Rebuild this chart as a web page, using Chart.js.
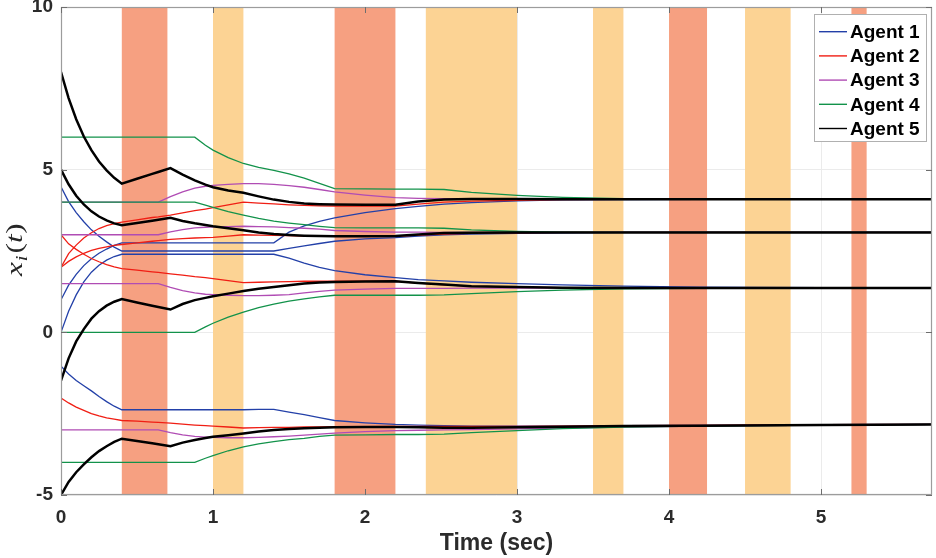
<!DOCTYPE html>
<html><head><meta charset="utf-8">
<script src="https://cdn.jsdelivr.net/npm/chart.js@4.4.1/dist/chart.umd.min.js"></script>
<style>html,body{margin:0;padding:0;background:#fff;}#wrap{width:936px;height:558px;}</style>
</head><body><div id="wrap"><canvas id="c" width="936" height="558"></canvas></div>
<script>
// ---- data ----
const times = [0,0.05,0.1,0.15,0.2,0.25,0.3,0.35,0.4,0.5,0.6,0.64,0.72,0.8,0.88,0.95,1.0,1.1,1.2,1.3,1.4,1.5,1.6,1.7,1.8,2.0,2.2,2.35,2.52,2.7,3.0,3.3,3.7,4.2,5.0,5.73];

const agent1 = [
  [4.47,4.02,3.68,3.4,3.15,2.95,2.78,2.62,2.5,2.5,2.5,2.5,2.5,2.5,2.5,2.5,2.5,2.5,2.5,2.5,2.5,2.58,2.66,2.73,2.8,2.87,2.91,2.96,3.0,3.02,3.04,3.06,3.07,3.07,3.07,3.07],
  [1.0,1.45,1.78,2.05,2.26,2.43,2.56,2.67,2.75,2.75,2.75,2.75,2.75,2.75,2.75,2.75,2.75,2.75,2.75,2.75,2.75,3.08,3.27,3.41,3.52,3.68,3.8,3.87,3.94,3.99,4.04,4.07,4.08,4.09,4.09,4.09],
  [0,0.65,1.15,1.55,1.85,2.06,2.22,2.33,2.4,2.4,2.4,2.4,2.4,2.4,2.4,2.4,2.4,2.4,2.4,2.4,2.4,2.28,2.13,2.0,1.9,1.77,1.68,1.62,1.58,1.54,1.5,1.46,1.42,1.39,1.37,1.36],
  [-1.04,-1.28,-1.48,-1.64,-1.8,-1.97,-2.13,-2.27,-2.38,-2.38,-2.38,-2.38,-2.38,-2.38,-2.38,-2.38,-2.38,-2.38,-2.38,-2.37,-2.37,-2.45,-2.53,-2.62,-2.71,-2.78,-2.83,-2.85,-2.87,-2.88,-2.88,-2.88,-2.87,-2.86,-2.84,-2.83]
];
const agent2 = [
  [2,2.42,2.68,2.9,3.06,3.19,3.28,3.34,3.39,3.46,3.53,3.55,3.6,3.67,3.74,3.79,3.83,3.92,4.0,3.97,3.95,3.92,3.9,3.89,3.88,3.88,3.88,3.94,4.0,4.03,4.06,4.08,4.09,4.09,4.09,4.09],
  [2,2.18,2.32,2.43,2.52,2.58,2.63,2.67,2.7,2.75,2.8,2.82,2.86,2.88,2.9,2.91,2.92,2.96,3.0,2.99,2.98,2.97,2.96,2.95,2.95,2.95,2.95,2.99,3.02,3.04,3.06,3.07,3.07,3.07,3.07,3.07],
  [3,2.72,2.55,2.4,2.27,2.17,2.08,2.01,1.96,1.91,1.86,1.84,1.8,1.76,1.71,1.68,1.65,1.59,1.53,1.54,1.55,1.56,1.57,1.57,1.57,1.57,1.57,1.51,1.46,1.42,1.39,1.37,1.36,1.36,1.36,1.36],
  [-2.02,-2.17,-2.3,-2.4,-2.5,-2.57,-2.63,-2.67,-2.71,-2.73,-2.76,-2.77,-2.79,-2.82,-2.85,-2.87,-2.88,-2.91,-2.94,-2.93,-2.92,-2.92,-2.91,-2.91,-2.9,-2.9,-2.89,-2.89,-2.89,-2.89,-2.89,-2.88,-2.87,-2.86,-2.84,-2.83]
];
const agent3 = [
  [4,4,4,4,4,4,4,4,4,4,4,4,4.17,4.32,4.43,4.49,4.52,4.55,4.57,4.57,4.55,4.51,4.46,4.39,4.32,4.22,4.14,4.12,4.11,4.1,4.1,4.09,4.09,4.09,4.09,4.09],
  [3,3,3,3,3,3,3,3,3,3,3,3,3.09,3.16,3.21,3.23,3.24,3.25,3.26,3.25,3.24,3.22,3.2,3.17,3.13,3.1,3.08,3.08,3.07,3.07,3.07,3.07,3.07,3.07,3.07,3.07],
  [1.5,1.5,1.5,1.5,1.5,1.5,1.5,1.5,1.5,1.5,1.5,1.5,1.38,1.28,1.21,1.17,1.16,1.14,1.13,1.13,1.14,1.16,1.21,1.26,1.3,1.33,1.35,1.35,1.35,1.36,1.36,1.36,1.36,1.36,1.36,1.36],
  [-3,-3,-3,-3,-3,-3,-3,-3,-3,-3,-3,-3,-3.08,-3.15,-3.2,-3.22,-3.23,-3.24,-3.24,-3.23,-3.21,-3.19,-3.16,-3.13,-3.1,-3.05,-3.02,-3.01,-3.0,-2.99,-2.97,-2.94,-2.91,-2.88,-2.85,-2.83]
];
const agent4 = [
  [6,6,6,6,6,6,6,6,6,6,6,6,6,6,6,5.75,5.6,5.37,5.19,5.07,4.98,4.87,4.74,4.58,4.42,4.41,4.4,4.4,4.39,4.3,4.21,4.15,4.11,4.1,4.09,4.09],
  [4,4,4,4,4,4,4,4,4,4,4,4,4,4,4,3.91,3.84,3.71,3.6,3.5,3.42,3.36,3.31,3.26,3.22,3.21,3.21,3.21,3.2,3.15,3.1,3.08,3.07,3.07,3.07,3.07],
  [0,0,0,0,0,0,0,0,0,0,0,0,0,0,0,0.17,0.28,0.47,0.62,0.76,0.87,0.96,1.03,1.09,1.14,1.14,1.14,1.14,1.15,1.19,1.25,1.3,1.34,1.35,1.36,1.36],
  [-4,-4,-4,-4,-4,-4,-4,-4,-4,-4,-4,-4,-4,-4,-4,-3.87,-3.79,-3.64,-3.52,-3.43,-3.36,-3.3,-3.26,-3.2,-3.16,-3.15,-3.14,-3.14,-3.13,-3.08,-3.02,-2.96,-2.91,-2.88,-2.85,-2.83]
];
const agent5 = [
  [8,7.2,6.55,6.02,5.6,5.25,4.98,4.75,4.57,4.72,4.87,4.93,5.05,4.85,4.67,4.54,4.46,4.36,4.29,4.18,4.08,4.01,3.96,3.94,3.93,3.92,3.92,4.02,4.08,4.1,4.1,4.09,4.09,4.09,4.09,4.09],
  [5,4.55,4.2,3.93,3.72,3.56,3.44,3.35,3.29,3.36,3.43,3.46,3.52,3.42,3.35,3.3,3.26,3.2,3.14,3.07,3.02,2.99,2.97,2.96,2.95,2.95,2.96,3.01,3.05,3.06,3.07,3.07,3.07,3.07,3.07,3.07],
  [-1.48,-0.8,-0.28,0.1,0.42,0.65,0.82,0.94,1.02,0.92,0.82,0.78,0.7,0.87,0.99,1.06,1.11,1.19,1.27,1.34,1.39,1.45,1.5,1.53,1.55,1.56,1.57,1.52,1.47,1.42,1.39,1.37,1.36,1.36,1.36,1.36],
  [-5,-4.6,-4.3,-4.06,-3.84,-3.65,-3.5,-3.37,-3.27,-3.34,-3.41,-3.44,-3.5,-3.39,-3.31,-3.25,-3.21,-3.16,-3.11,-3.05,-3.0,-2.97,-2.95,-2.93,-2.92,-2.91,-2.91,-2.92,-2.93,-2.93,-2.92,-2.9,-2.88,-2.87,-2.85,-2.83]
];
const agentNames = ['Agent 1','Agent 2','Agent 3','Agent 4','Agent 5'];
const redIntervals = [[0.4,0.7],[1.8,2.2],[4.0,4.25],[5.2,5.3]];
const orangeIntervals = [[1.0,1.2],[2.4,3.0],[3.5,3.7],[4.5,4.8]];
const xTickValues = [0,1,2,3,4,5];
const yTickValues = [-5,0,5,10];
const xMax = 5.73;

// ---- styles ----
const agentColors = ['#2340a8','#f01e14','#b04cb4','#12924a','#000000'];
const agentWidths = [1.3,1.3,1.3,1.3,2.5];
const agents = [agent1,agent2,agent3,agent4,agent5];

const datasets = [];
agents.forEach((ag, a) => {
  ag.forEach((traj, k) => {
    datasets.push({
      label: agentNames[a],
      data: times.map((t, i) => ({x: t, y: traj[i]})),
      borderColor: agentColors[a],
      borderWidth: agentWidths[a],
      pointRadius: 0,
      fill: false,
      tension: 0,
      order: 5 - a
    });
  });
});

const bandsPlugin = {
  id: 'bands',
  beforeDatasetsDraw(chart) {
    const {ctx, chartArea: ca, scales: {x}} = chart;
    ctx.save();
    const draw = (list, color) => list.forEach(([a, b]) => {
      const x0 = x.getPixelForValue(a), x1 = x.getPixelForValue(b);
      ctx.fillStyle = color;
      ctx.fillRect(x0, ca.top, x1 - x0, ca.bottom - ca.top);
    });
    draw(redIntervals, '#f6a081');
    draw(orangeIntervals, '#fcd394');
    ctx.restore();
  }
};

const framePlugin = {
  id: 'frame',
  afterDatasetsDraw(chart) {
    const {ctx, chartArea: ca, scales: {x, y}} = chart;
    ctx.save();
    ctx.strokeStyle = '#9c9c9c';
    ctx.lineWidth = 1.2;
    ctx.strokeRect(ca.left + 0.5, ca.top + 0.5, ca.right - ca.left - 1, ca.bottom - ca.top - 1);
    ctx.strokeStyle = '#6e6e6e';
    ctx.lineWidth = 1;
    ctx.beginPath();
    xTickValues.forEach(v => {
      const px = Math.round(x.getPixelForValue(v)) + 0.5;
      ctx.moveTo(px, ca.bottom); ctx.lineTo(px, ca.bottom - 6);
      ctx.moveTo(px, ca.top); ctx.lineTo(px, ca.top + 6);
    });
    yTickValues.forEach(v => {
      const py = Math.round(y.getPixelForValue(v)) + 0.5;
      ctx.moveTo(ca.left, py); ctx.lineTo(ca.left + 6, py);
      ctx.moveTo(ca.right, py); ctx.lineTo(ca.right - 6, py);
    });
    ctx.stroke();
    ctx.restore();
  }
};

const legendPlugin = {
  id: 'boxLegend',
  afterDraw(chart) {
    const {ctx} = chart;
    ctx.save();
    const bx = 814, by = 14, bw = 113, bh = 128;
    ctx.fillStyle = '#ffffff';
    ctx.fillRect(bx, by, bw, bh);
    ctx.strokeStyle = '#b0b0b0';
    ctx.lineWidth = 1;
    ctx.strokeRect(bx + 0.5, by + 0.5, bw - 1, bh - 1);
    ctx.font = 'bold 19px "Liberation Sans", Arial, Helvetica, sans-serif';
    ctx.textBaseline = 'middle';
    ctx.textAlign = 'left';
    agentNames.forEach((name, i) => {
      const ry = by + 17.7 + 24.2 * i;
      ctx.strokeStyle = agentColors[i];
      ctx.lineWidth = 1.4;
      ctx.beginPath();
      ctx.moveTo(bx + 5, ry); ctx.lineTo(bx + 33, ry);
      ctx.stroke();
      ctx.fillStyle = '#000';
      ctx.fillText(name, bx + 36, ry + 1);
    });
    ctx.restore();
  }
};

const yLabelPlugin = {
  id: 'yLabel',
  afterDraw(chart) {
    const {ctx} = chart;
    ctx.save();
    ctx.translate(22, 276);
    ctx.rotate(-Math.PI / 2);
    ctx.scale(1.3, 1);
    ctx.fillStyle = '#262626';
    ctx.textBaseline = 'alphabetic';
    ctx.textAlign = 'left';
    let cx = 0;
    const big = 'italic 24px "Liberation Serif", "DejaVu Serif", serif';
    const small = 'italic 17px "Liberation Serif", "DejaVu Serif", serif';
    const up = '24px "Liberation Serif", "DejaVu Serif", serif';
    ctx.font = big; ctx.fillText('x', cx, 0); cx += ctx.measureText('x').width + 0.5;
    ctx.font = small; ctx.fillText('i', cx, 5); cx += ctx.measureText('i').width + 1.5;
    ctx.font = up; ctx.fillText('(', cx, 0); cx += ctx.measureText('(').width;
    ctx.font = big; ctx.fillText('t', cx, 0); cx += ctx.measureText('t').width + 0.5;
    ctx.font = up; ctx.fillText(')', cx, 0);
    ctx.restore();
  }
};

const tickFont = {family: '"Liberation Sans", Arial, Helvetica, sans-serif', size: 19, weight: 'bold'};

new Chart(document.getElementById('c'), {
  type: 'line',
  data: {datasets},
  plugins: [bandsPlugin, framePlugin, legendPlugin, yLabelPlugin],
  options: {
    responsive: false,
    animation: false,
    devicePixelRatio: 1,
    layout: {padding: {left: 0, right: 4, top: 7, bottom: 0}},
    plugins: {legend: {display: false}, tooltip: {enabled: false}},
    scales: {
      x: {
        type: 'linear', min: 0, max: xMax,
        afterBuildTicks: s => { s.ticks = xTickValues.map(v => ({value: v})); },
        afterFit: s => { s.height = 63; s.paddingLeft = 0; s.paddingRight = 0; },
        ticks: {font: tickFont, color: '#2b2b2b', padding: 11, maxRotation: 0, includeBounds: false, callback: v => String(v)},
        grid: {color: '#ebebeb', lineWidth: 1, drawTicks: false},
        border: {display: false},
        title: {display: true, text: 'Time (sec)', color: '#2b2b2b',
                font: {family: '"Liberation Sans", Arial, Helvetica, sans-serif', size: 23, weight: 'bold'},
                padding: {top: 0, bottom: 1}}
      },
      y: {
        type: 'linear', min: -5, max: 10,
        afterBuildTicks: s => { s.ticks = yTickValues.map(v => ({value: v})); },
        afterFit: s => { s.width = 61; s.paddingTop = 0; s.paddingBottom = 0; },
        ticks: {font: tickFont, color: '#2b2b2b', padding: 8, callback: v => String(v)},
        grid: {color: '#ebebeb', lineWidth: 1, drawTicks: false},
        border: {display: false}
      }
    }
  }
});
</script>
</body></html>
